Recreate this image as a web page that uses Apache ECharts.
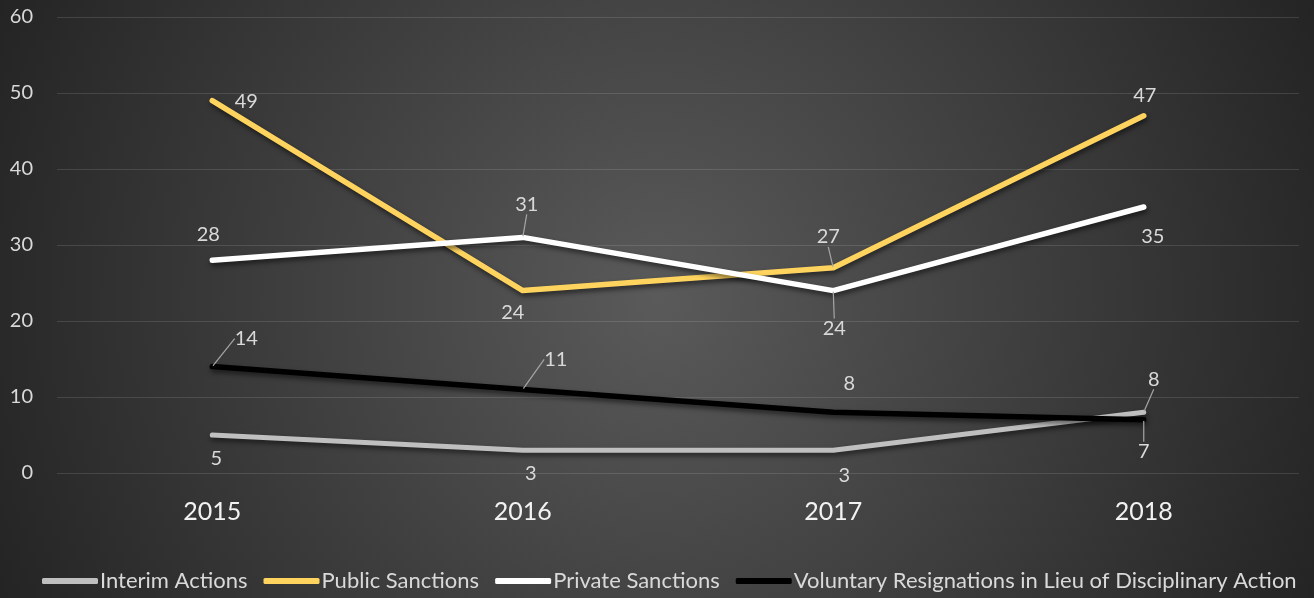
<!DOCTYPE html>
<html>
<head>
<meta charset="utf-8">
<script src="https://cdn.jsdelivr.net/npm/echarts@6/dist/echarts.min.js"></script>
<style>
  html, body { margin: 0; padding: 0; background: #262626; }
  #chart { width: 1314px; height: 598px; }
</style>
</head>
<body>
<div id="chart"></div>
<script>
// Disciplinary outcomes per year
const years = ['2015', '2016', '2017', '2018'];
const interimActions = [5, 3, 3, 8];
const publicSanctions = [49, 24, 27, 47];
const privateSanctions = [28, 31, 24, 35];
const voluntaryResignations = [14, 11, 8, 7];
const yTicks = { min: 0, max: 60, interval: 10 };

// Label placement: [dx, dy, leader line] relative to each point
const labelPlacement = {
  'Interim Actions': [[4, 24, false], [8, 23, false], [11, 25, false], [10, -33, true]],
  'Public Sanctions': [[34, 1, false], [-10, 22, false], [-5, -31, true], [1, -20, false]],
  'Private Sanctions': [[-4, -26, false], [4, -33, true], [1, 38, true], [9, 30, false]],
  'Voluntary Resignations in Lieu of Disciplinary Action': [[34, -28, true], [33, -30, true], [16, -29, false], [0, 32, true]]
};

const FONT = 'Lato, "Open Sans", sans-serif';

function makeSeries(name, values, color, width) {
  const place = labelPlacement[name];
  return {
    name: name,
    type: 'line',
    data: values.map((v, i) => ({
      value: v,
      labelLine: { show: place[i][2] }
    })),
    symbol: 'circle',
    symbolSize: 2,
    showSymbol: true,
    itemStyle: { color: color },
    lineStyle: {
      color: color,
      width: width,
      cap: 'round',
      join: 'round',
      shadowColor: 'rgba(0,0,0,0.55)',
      shadowBlur: 5,
      shadowOffsetX: 1,
      shadowOffsetY: 3
    },
    label: {
      show: true,
      position: 'inside',
      color: '#d9d9d9',
      fontSize: 20,
      fontFamily: FONT
    },
    labelLine: {
      show: true,
      lineStyle: { color: '#a6a6a6', width: 1.2 }
    },
    labelLayout: function (p) {
      const o = place[p.dataIndex];
      return { dx: o[0], dy: o[1] };
    },
    emphasis: { disabled: true },
    animation: false
  };
}

const chart = echarts.init(document.getElementById('chart'), null, { renderer: 'canvas' });
chart.setOption({
  backgroundColor: {
    type: 'radial', x: 0.5, y: 0.5, r: 1.25,
    colorStops: [
      { offset: 0, color: '#5a5a5a' },
      { offset: 1, color: '#222222' }
    ]
  },
  animation: false,
  grid: { left: 57, right: 15, top: 17, bottom: 125 },
  legend: {
    bottom: 1,
    left: 37,
    itemWidth: 56,
    itemHeight: 6,
    itemGap: 16,
    icon: 'roundRect',
    textStyle: { color: '#d9d9d9', fontSize: 22, fontFamily: FONT, padding: [0, 0, 0, -3] },
    data: ['Interim Actions', 'Public Sanctions', 'Private Sanctions', 'Voluntary Resignations in Lieu of Disciplinary Action']
  },
  xAxis: {
    type: 'category',
    data: years,
    boundaryGap: true,
    axisLine: { show: false },
    axisTick: { show: false },
    axisLabel: { color: '#f2f2f2', fontSize: 25, fontFamily: FONT, margin: 26 }
  },
  yAxis: {
    type: 'value',
    min: yTicks.min,
    max: yTicks.max,
    interval: yTicks.interval,
    axisLine: { show: false },
    axisTick: { show: false },
    axisLabel: { color: '#d9d9d9', fontSize: 20, fontFamily: FONT, margin: 24 },
    splitLine: { lineStyle: { color: 'rgba(255,255,255,0.12)', width: 1 } }
  },
  series: [
    makeSeries('Interim Actions', interimActions, '#bfbfbf', 5),
    makeSeries('Public Sanctions', publicSanctions, '#ffd45e', 5.5),
    makeSeries('Private Sanctions', privateSanctions, '#ffffff', 5.5),
    makeSeries('Voluntary Resignations in Lieu of Disciplinary Action', voluntaryResignations, '#000000', 5.5)
  ]
});
</script>
</body>
</html>
